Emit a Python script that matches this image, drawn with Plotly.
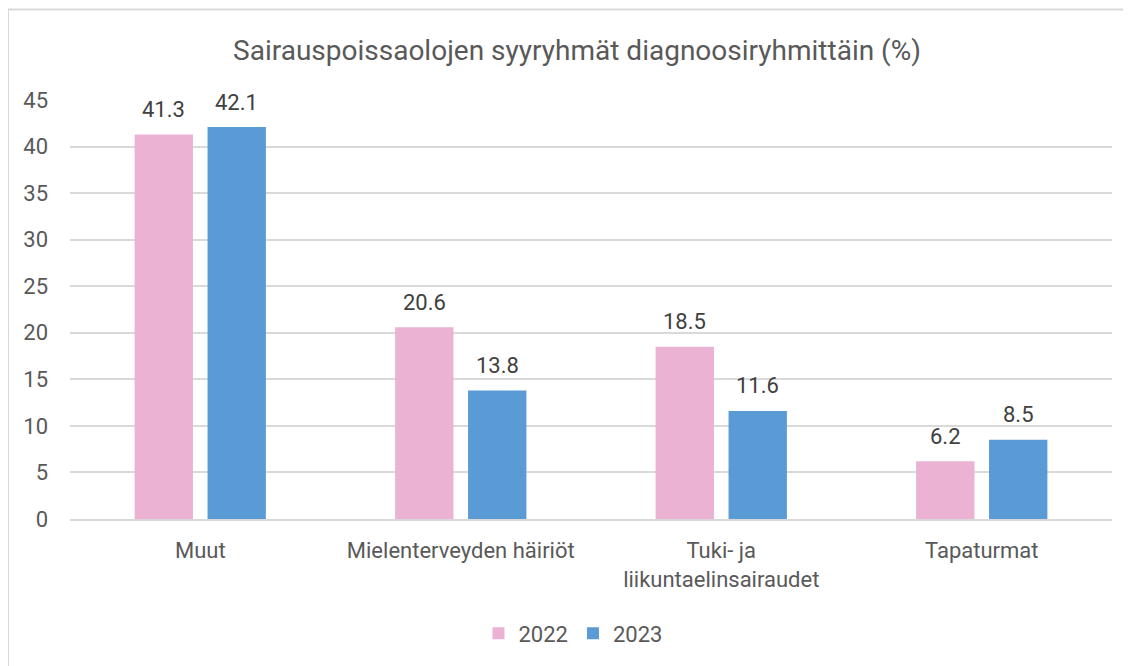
import plotly.graph_objects as go

categories = ["Muut", "Mielenterveyden häiriöt", "Tuki- ja<br>liikuntaelinsairaudet", "Tapaturmat"]
values_2022 = [41.3, 20.6, 18.5, 6.2]
values_2023 = [42.1, 13.8, 11.6, 8.5]
series_names = ["2022", "2023"]
y_ticks = [0, 5, 10, 15, 20, 25, 30, 35, 40, 45]

PINK = "#EBB2D3"
BLUE = "#5B9BD5"
TXT = "#595959"
FONT = "Roboto"

# the page body adds an 8px offset; figure is sized to fill the rest of the window
OFF = 8
W, H = 1131 - OFF, 666 - OFF
ML = 70 - OFF
MR = W - (1112 - OFF)
MT = 100 - OFF
MB = H - (521 - OFF)

pw = W - ML - MR
ph = H - MT - MB
def px2x(p):  # reference pixel -> paper x
    return (p - OFF - ML) / pw
def py2y(p):  # reference pixel -> paper y
    return (H - MB - (p - OFF)) / ph

fig = go.Figure()
for name, vals, col in [(series_names[0], values_2022, PINK), (series_names[1], values_2023, BLUE)]:
    fig.add_trace(go.Bar(x=categories, y=vals, name=name,
                         marker=dict(color=col, line=dict(width=0))))

# data labels placed above bars through the axis scales
slot = pw / len(categories) * (1 - 0.44) / 2
for i, vals in enumerate([values_2022, values_2023]):
    shift = (-0.5 + i) * slot
    for c, v in zip(categories, vals):
        fig.add_annotation(x=c, y=v, text=f"{v:.1f}", showarrow=False,
                           xshift=shift, yshift=25, yanchor="middle",
                           font=dict(family=FONT, size=22, color="#404040"))

fig.add_shape(type="rect", xref="paper", yref="paper",
              x0=px2x(OFF), x1=px2x(1150), y0=py2y(690), y1=py2y(OFF + 1),
              line=dict(color="#D9D9D9", width=2), fillcolor="rgba(0,0,0,0)", layer="below")

fig.update_layout(
    width=W, height=H,
    margin=dict(l=ML, r=MR, t=MT, b=MB),
    paper_bgcolor="white", plot_bgcolor="white",
    barmode="group", bargap=0.44, bargroupgap=0.2,
    title=dict(text="Sairauspoissaolojen syyryhmät diagnoosiryhmittäin (%)",
               xref="container", x=(577 - OFF) / W, xanchor="center",
               y=1 - (50 - OFF) / H, yanchor="middle",
               font=dict(family=FONT, size=28, color=TXT)),
    font=dict(family=FONT, color=TXT, size=22),
    legend=dict(orientation="h", x=px2x(573), xanchor="center", y=py2y(636), yanchor="middle",
                font=dict(family=FONT, size=22, color=TXT), traceorder="normal"),
    showlegend=True,
    xaxis=dict(showgrid=False, showline=True, linecolor="#D9D9D9", linewidth=1.5,
               tickfont=dict(family=FONT, size=22, color=TXT), ticks="", ticklabelstandoff=11),
    yaxis=dict(range=[0, 45], tickvals=y_ticks, showgrid=True, gridcolor="#D9D9D9", gridwidth=1.5,
               zeroline=False, showline=False, ticks="",
               tickfont=dict(family=FONT, size=22, color=TXT), ticklabelstandoff=21),
)

fig.write_html("out.html")
